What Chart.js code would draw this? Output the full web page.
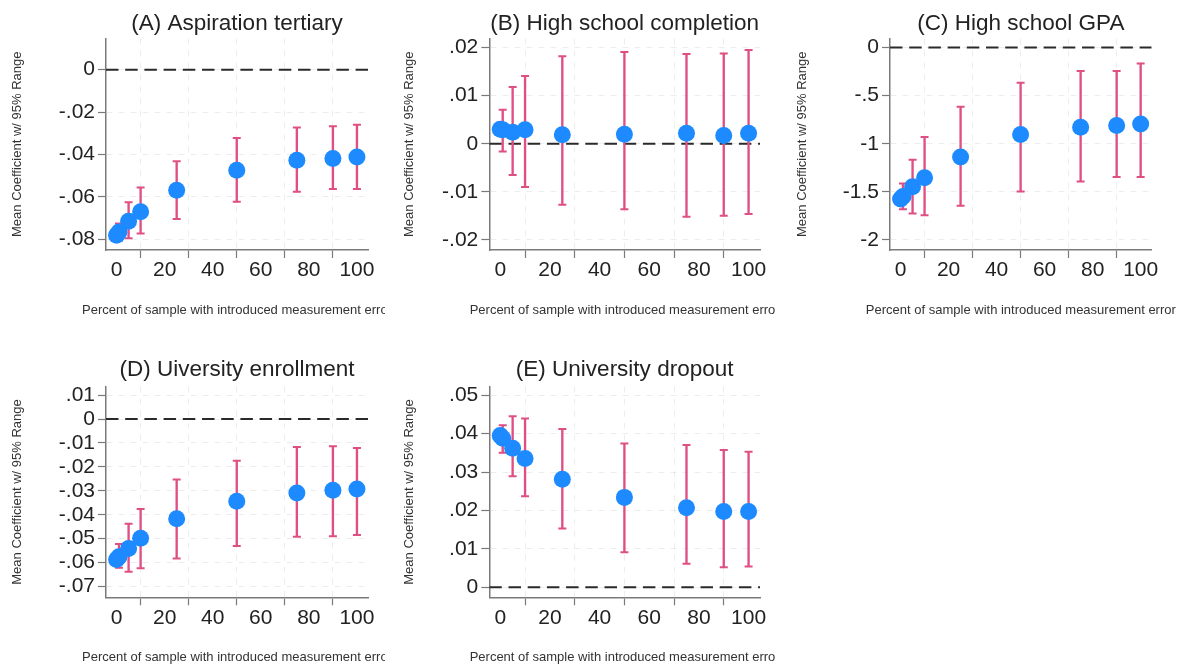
<!DOCTYPE html>
<html>
<head>
<meta charset="utf-8">
<script src="https://cdn.jsdelivr.net/npm/chart.js@4.4.1/dist/chart.umd.min.js"></script>
<style>
html, body { margin: 0; padding: 0; background: #fff; }
body { position: relative; width: 1189px; height: 667px; overflow: hidden; }
canvas { position: absolute; }
</style>
</head>
<body>
<canvas id="cA" width="385" height="330" style="left:0px;top:0px"></canvas>
<canvas id="cB" width="383" height="330" style="left:392px;top:0px"></canvas>
<canvas id="cC" width="404" height="330" style="left:785px;top:0px"></canvas>
<canvas id="cD" width="385" height="333" style="left:0px;top:334px"></canvas>
<canvas id="cE" width="383" height="333" style="left:392px;top:334px"></canvas>
<script>
// percent of sample with introduced measurement error
const PCT = [0, 1, 5, 10, 25, 50, 75, 90, 100];
const X_TICKS = [0, 20, 40, 60, 80, 100];
const X_MIN = -4.4, X_MAX = 104.6;

const Y_TITLE = 'Mean Coefficient w/ 95% Range';
const X_TITLE = 'Percent of sample with introduced measurement error';

// (A) Aspiration tertiary
const ASP_MEAN = [-0.0780, -0.0765, -0.0715, -0.0670, -0.0568, -0.0474, -0.0427, -0.0419, -0.0412];
const ASP_LO   = [-0.0780, -0.0805, -0.0795, -0.0772, -0.0704, -0.0623, -0.0576, -0.0563, -0.0563];
const ASP_HI   = [-0.0780, -0.0725, -0.0625, -0.0555, -0.0432, -0.0322, -0.0273, -0.0267, -0.0259];
const ASP_TICKS = [-0.08, -0.06, -0.04, -0.02, 0];

// (B) High school completion
const HSC_MEAN = [0.0030, 0.0029, 0.0024, 0.0029, 0.0019, 0.0020, 0.0022, 0.0017, 0.0022];
const HSC_LO   = [0.0030, -0.0016, -0.0065, -0.0090, -0.0127, -0.0136, -0.0152, -0.0150, -0.0146];
const HSC_HI   = [0.0030, 0.0071, 0.0118, 0.0141, 0.0182, 0.0191, 0.0187, 0.0188, 0.0195];
const HSC_TICKS = [-0.02, -0.01, 0, 0.01, 0.02];

// (C) High school GPA
const GPA_MEAN = [-1.575, -1.548, -1.447, -1.352, -1.137, -0.904, -0.828, -0.810, -0.795];
const GPA_LO   = [-1.575, -1.680, -1.725, -1.742, -1.645, -1.496, -1.391, -1.346, -1.346];
const GPA_HI   = [-1.575, -1.413, -1.165, -0.930, -0.616, -0.365, -0.243, -0.243, -0.167];
const GPA_TICKS = [-2, -1.5, -1, -0.5, 0];

// (D) Uiversity enrollment
const ENR_MEAN = [-0.0587, -0.0576, -0.0541, -0.0498, -0.0417, -0.0344, -0.0309, -0.0298, -0.0292];
const ENR_LO   = [-0.0587, -0.0622, -0.0638, -0.0624, -0.0583, -0.0531, -0.0492, -0.0490, -0.0485];
const ENR_HI   = [-0.0587, -0.0522, -0.0438, -0.0376, -0.0253, -0.0174, -0.0117, -0.0114, -0.0121];
const ENR_TICKS = [-0.07, -0.06, -0.05, -0.04, -0.03, -0.02, -0.01, 0, 0.01];

// (E) University dropout
const DRP_MEAN = [0.0395, 0.0388, 0.0362, 0.0335, 0.0281, 0.0234, 0.0207, 0.0197, 0.0197];
const DRP_LO   = [0.0395, 0.0350, 0.0289, 0.0237, 0.0153, 0.0091, 0.0061, 0.0052, 0.0054];
const DRP_HI   = [0.0395, 0.0422, 0.0445, 0.0439, 0.0412, 0.0374, 0.0370, 0.0357, 0.0353];
const DRP_TICKS = [0, 0.01, 0.02, 0.03, 0.04, 0.05];

const FONT = '"Liberation Sans", Arial, Helvetica, sans-serif';
const BLUE = '#1e8aff';
const PINK = '#df4f84';
const AXIS = '#7a7a7a';
const GRID = 'rgba(0,0,0,0.07)';

// stata style labels: -.02 instead of -0.02
function stataLabel(v) {
    const s = String(+v.toFixed(3));
    return s.replace(/^(-?)0\./, '$1.');
}

// panel title and x title are centred on the plot region (stata style),
// x title is not squeezed, the canvas edge clips it like in the original
const panelText = {
    id: 'panelText',
    afterDraw(chart, args, opts) {
        const { ctx, chartArea } = chart;
        const cx = (chartArea.left + chartArea.right) / 2;
        ctx.save();
        ctx.textAlign = 'center';
        ctx.textBaseline = 'middle';
        ctx.fillStyle = '#222';
        ctx.font = '22.5px ' + FONT;
        ctx.fillText(opts.title, cx, opts.titleY);
        ctx.fillStyle = '#333';
        ctx.font = '13px ' + FONT;
        ctx.fillText(opts.xTitle, cx, chartArea.bottom + opts.xOffset);
        ctx.restore();
    }
};

function makePanel(id, box, title, mean, lo, hi, yTicks, yMin, yMax) {
    const pts = PCT.map((x, i) => ({ x: x, y: mean[i] }));
    const bars = PCT.map((x, i) => ({ x: x, y: [lo[i], hi[i]] }));
    const caps = PCT.flatMap((x, i) => [{ x: x, y: lo[i] }, { x: x, y: hi[i] }]);

    new Chart(document.getElementById(id), {
        type: 'scatter',
        plugins: [panelText],
        data: {
            datasets: [
                {
                    type: 'line',
                    data: [{ x: X_MIN, y: 0 }, { x: X_MAX, y: 0 }],
                    borderColor: '#2a2a2a',
                    borderWidth: 2,
                    borderDash: [12.5, 6.7],
                    pointRadius: 0,
                    order: 4
                },
                {
                    type: 'bar',
                    data: bars,
                    backgroundColor: PINK,
                    barThickness: 1.7,
                    borderWidth: 0,
                    order: 3
                },
                {
                    data: caps,
                    pointStyle: 'line',
                    pointRadius: 4,
                    borderColor: PINK,
                    borderWidth: 2,
                    order: 2
                },
                {
                    data: pts,
                    pointRadius: 8.5,
                    backgroundColor: BLUE,
                    borderWidth: 0,
                    order: 1
                }
            ]
        },
        options: {
            responsive: false,
            animation: false,
            layout: { padding: { left: 0, right: box.padRight, top: box.top, bottom: 0 } },
            plugins: {
                legend: { display: false },
                tooltip: { enabled: false },
                panelText: { title: title, titleY: box.titleY, xTitle: X_TITLE, xOffset: 60 }
            },
            scales: {
                x: {
                    type: 'linear',
                    min: X_MIN,
                    max: X_MAX,
                    offset: false,
                    afterBuildTicks: s => { s.ticks = X_TICKS.map(v => ({ value: v })); },
                    afterFit: s => { s.height = box.xH; },
                    ticks: {
                        autoSkip: false, maxRotation: 0, padding: 0, color: '#222',
                        font: { family: FONT, size: 21 },
                        callback: v => String(v)
                    },
                    grid: { color: GRID, lineWidth: 1, tickLength: 8, tickColor: AXIS, tickWidth: 1.2 },
                    border: { color: AXIS, width: 1.5, dash: [6, 6] }
                },
                y: {
                    type: 'linear',
                    min: yMin,
                    max: yMax,
                    afterBuildTicks: s => { s.ticks = yTicks.map(v => ({ value: v })); },
                    afterFit: s => { s.width = box.yW; },
                    ticks: {
                        autoSkip: false, padding: 3, color: '#222',
                        font: { family: FONT, size: 21 },
                        callback: v => stataLabel(v)
                    },
                    title: {
                        display: true, text: Y_TITLE, color: '#333',
                        font: { family: FONT, size: 13 },
                        padding: { top: 10, bottom: 0 }
                    },
                    grid: { color: GRID, lineWidth: 1, tickLength: 8, tickColor: AXIS, tickWidth: 1.2 },
                    border: { color: AXIS, width: 1.5, dash: [6, 6] }
                }
            }
        }
    });
}

const ROW1 = { top: 38.5, titleY: 24, xH: 80 };
const ROW2 = { top: 52.7, titleY: 36, xH: 69.7 };

makePanel('cA', Object.assign({ yW: 106, padRight: 17 }, ROW1),
    '(A) Aspiration tertiary', ASP_MEAN, ASP_LO, ASP_HI, ASP_TICKS, -0.085, 0.0147);
makePanel('cB', Object.assign({ yW: 97.3, padRight: 15 }, ROW1),
    '(B) High school completion', HSC_MEAN, HSC_LO, HSC_HI, HSC_TICKS, -0.0221, 0.0219);
makePanel('cC', Object.assign({ yW: 105, padRight: 37.3 }, ROW1),
    '(C) High school GPA', GPA_MEAN, GPA_LO, GPA_HI, GPA_TICKS, -2.104, 0.094);
makePanel('cD', Object.assign({ yW: 106, padRight: 17 }, ROW2),
    '(D) Uiversity enrollment', ENR_MEAN, ENR_LO, ENR_HI, ENR_TICKS, -0.0745, 0.0135);
makePanel('cE', Object.assign({ yW: 97.3, padRight: 15 }, ROW2),
    '(E) University dropout', DRP_MEAN, DRP_LO, DRP_HI, DRP_TICKS, -0.0026, 0.0522);
</script>
</body>
</html>
